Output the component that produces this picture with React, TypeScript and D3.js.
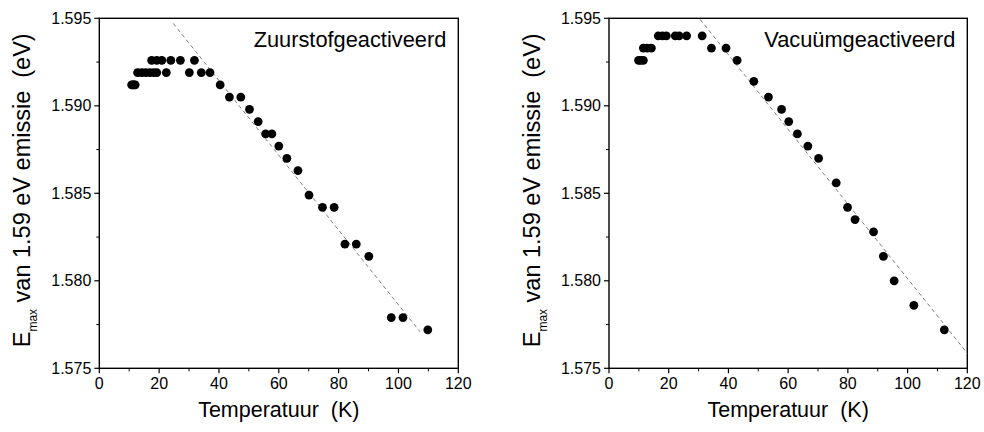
import React from "react";
import * as d3 from "d3";

const xTicks = [0, 20, 40, 60, 80, 100, 120];
const yTicks = [1.575, 1.58, 1.585, 1.59, 1.595];

// Left panel: Zuurstofgeactiveerd
const oxT = [10.8, 11.2, 11.6, 12.0, 12.8, 14.2, 15.5, 16.9, 18.2, 19.2, 22.4, 30.1, 34.1, 37.0, 17.5, 19.2, 20.9, 23.9, 27.1, 31.8, 40.4, 43.5, 47.3, 50.2, 53.1, 55.6, 57.7, 60.0, 62.7, 66.4, 70.1, 74.6, 78.5, 82.1, 85.9, 90.1, 97.6, 101.5, 109.8];
const oxE = [1.5912, 1.5912, 1.5912, 1.5912, 1.5919, 1.5919, 1.5919, 1.5919, 1.5919, 1.5919, 1.5919, 1.5919, 1.5919, 1.5919, 1.5926, 1.5926, 1.5926, 1.5926, 1.5926, 1.5926, 1.5912, 1.5905, 1.5905, 1.5898, 1.5891, 1.5884, 1.5884, 1.5877, 1.5870, 1.5863, 1.5849, 1.5842, 1.5842, 1.5821, 1.5821, 1.5814, 1.5779, 1.5779, 1.5772];
const oxFitT = [24.7, 107.2];
const oxFitE = [1.59471, 1.57709];

// Right panel: Vacuümgeactiveerd
const vacT = [9.9, 10.6, 11.5, 11.5, 12.8, 14.2, 16.5, 17.9, 19.2, 22.2, 23.5, 26.0, 31.2, 34.3, 39.2, 42.9, 48.5, 53.4, 57.8, 60.2, 63.1, 66.6, 70.2, 76.1, 79.9, 82.4, 88.6, 91.9, 95.5, 102.1, 112.3];
const vacE = [1.5926, 1.5926, 1.5926, 1.5933, 1.5933, 1.5933, 1.594, 1.594, 1.594, 1.594, 1.594, 1.594, 1.594, 1.5933, 1.5933, 1.5926, 1.5914, 1.5905, 1.5898, 1.5891, 1.5884, 1.5877, 1.587, 1.5856, 1.5842, 1.5835, 1.5828, 1.5814, 1.58, 1.5786, 1.5772];
const vacFitT = [30.5, 120];
const vacFitE = [1.59494, 1.57586];

const labels = ["Zuurstofgeactiveerd", "Vacuümgeactiveerd"];

const FONT = "'Liberation Sans', Arial, sans-serif";

type PanelProps = {
  x0: number; x1: number; y0: number; y1: number;
  T: number[]; E: number[]; fitT: number[]; fitE: number[]; label: string;
};

function Panel({ x0, x1, y0, y1, T, E, fitT, fitE, label }: PanelProps) {
  const x = d3.scaleLinear().domain([0, 120]).range([x0, x1]);
  const y = d3.scaleLinear().domain([1.575, 1.595]).range([y1, y0]);
  const minorX = d3.range(10, 120, 20);
  const minorY = d3.range(0, 4).map((i) => 1.5775 + i * 0.005);
  const line = d3.line<number>().x((_, i) => x(fitT[i])).y((d) => y(d));
  const cx = (x0 + x1) / 2;
  return (
    <g>
      <rect x={x0} y={y0} width={x1 - x0} height={y1 - y0} fill="none" stroke="#000" strokeWidth={1.4} />
      {xTicks.map((t) => (
        <g key={"xt" + t}>
          <line x1={x(t)} x2={x(t)} y1={y1} y2={y1 + 5} stroke="#000" strokeWidth={1.2} />
          <text x={x(t)} y={y1 + 20.5} textAnchor="middle" fontSize={16} fontFamily={FONT}>{t}</text>
        </g>
      ))}
      {minorX.map((t) => (
        <line key={"xm" + t} x1={x(t)} x2={x(t)} y1={y1} y2={y1 + 3} stroke="#000" strokeWidth={1} />
      ))}
      {yTicks.map((t) => (
        <g key={"yt" + t}>
          <line x1={x0 - 5} x2={x0} y1={y(t)} y2={y(t)} stroke="#000" strokeWidth={1.2} />
          <text x={x0 - 8} y={y(t) + 5.6} textAnchor="end" fontSize={16} fontFamily={FONT}>{t.toFixed(3)}</text>
        </g>
      ))}
      {minorY.map((t) => (
        <line key={"ym" + t} x1={x0 - 3} x2={x0} y1={y(t)} y2={y(t)} stroke="#000" strokeWidth={1} />
      ))}
      <path d={line(fitE) || ""} fill="none" stroke="#808080" strokeWidth={1} strokeDasharray="4,3" />
      {T.map((t, i) => (
        <circle key={"p" + i} cx={x(t)} cy={y(E[i])} r={4.4} fill="#000" />
      ))}
      <text x={x1 - 12} y={y0 + 29} textAnchor="end" fontSize={21.8} fontFamily={FONT}>{label}</text>
      <text x={cx} y={y1 + 49} textAnchor="middle" fontSize={21.5} fontFamily={FONT} style={{ whiteSpace: "pre" }}>
        {"Temperatuur  (K)"}
      </text>
      <text
        transform={`translate(${x0 - 69},${(y0 + y1) / 2 - 3}) rotate(-90)`}
        textAnchor="middle"
        fontSize={23.5}
        fontFamily={FONT}
        style={{ whiteSpace: "pre" }}
      >
        <tspan>E</tspan>
        <tspan fontSize={12} dy={7}>max</tspan>
        <tspan dy={-7}>{" van 1.59 eV emissie  (eV)"}</tspan>
      </text>
    </g>
  );
}

export default function App() {
  return (
    <svg width={984} height={432} style={{ position: "absolute", left: 0, top: 0, background: "#fff" }}>
      <rect width={984} height={432} fill="#fff" />
      <Panel x0={99.3} x1={458.3} y0={18.3} y1={368.3} T={oxT} E={oxE} fitT={oxFitT} fitE={oxFitE} label={labels[0]} />
      <Panel x0={609} x1={967.3} y0={18.3} y1={368.3} T={vacT} E={vacE} fitT={vacFitT} fitE={vacFitE} label={labels[1]} />
    </svg>
  );
}
